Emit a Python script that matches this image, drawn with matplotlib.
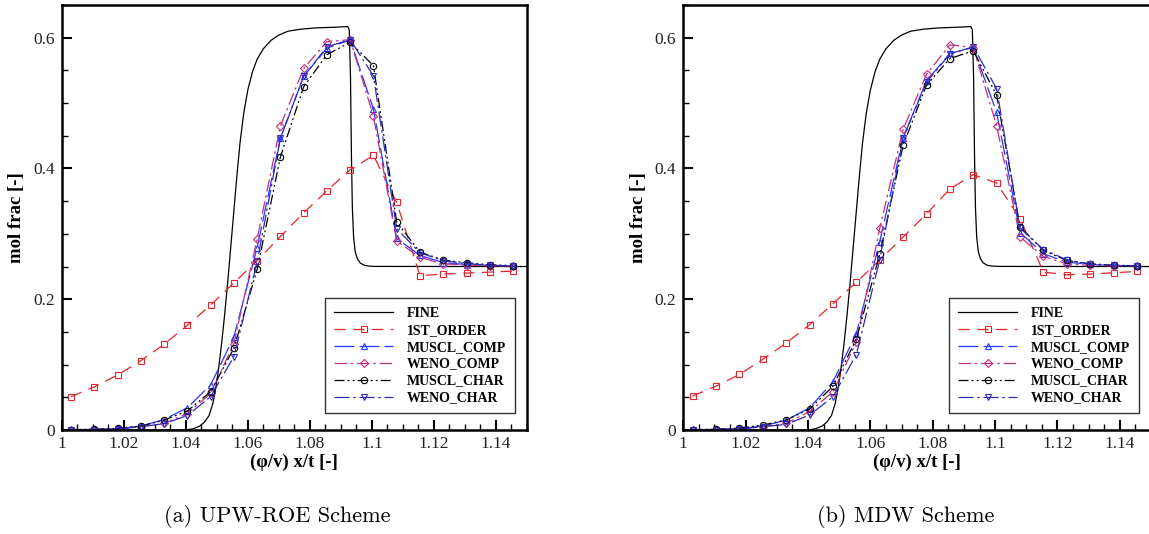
import numpy as np
import matplotlib
matplotlib.use("Agg")
import matplotlib.pyplot as plt
from matplotlib.ticker import MultipleLocator, FormatStrFormatter

plt.rcParams['font.family'] = ['Liberation Serif', 'DejaVu Serif']

# coarse-grid cell positions shared by all schemes
x_coarse = [1.003, 1.0105, 1.018, 1.0255, 1.033, 1.0405, 1.048, 1.0555, 1.063, 1.0705,
            1.078, 1.0855, 1.093, 1.1005, 1.108, 1.1155, 1.123, 1.1305, 1.138, 1.1455]

# fine-grid reference solution
fine_x = [1.0, 1.040, 1.0425, 1.0445, 1.046, 1.0475, 1.0487, 1.0497, 1.0506, 1.0515,
          1.0525, 1.0535, 1.0545, 1.0555, 1.0565, 1.0575, 1.0587, 1.060, 1.0615, 1.063,
          1.065, 1.0675, 1.070, 1.073, 1.077, 1.082, 1.088, 1.0922, 1.0927, 1.0931,
          1.0934, 1.0937, 1.0941, 1.0946, 1.0953, 1.0962, 1.0975, 1.099, 1.101, 1.15]
fine_y = [0.0, 0.0, 0.002, 0.006, 0.012, 0.022, 0.040, 0.065, 0.095, 0.130,
          0.175, 0.225, 0.280, 0.335, 0.390, 0.440, 0.485, 0.520, 0.548, 0.567,
          0.583, 0.596, 0.604, 0.610, 0.613, 0.615, 0.616, 0.617, 0.612, 0.540,
          0.420, 0.340, 0.295, 0.273, 0.262, 0.2555, 0.252, 0.2507, 0.2502, 0.250]

# UPW-ROE results
first_roe = [0.051, 0.066, 0.084, 0.106, 0.131, 0.160, 0.191, 0.225, 0.259, 0.296,
             0.332, 0.366, 0.398, 0.420, 0.348, 0.236, 0.2385, 0.240, 0.2415, 0.243]
muscl_comp_roe = [0.0005, 0.001, 0.002, 0.006, 0.016, 0.034, 0.069, 0.142, 0.279, 0.446,
                  0.541, 0.584, 0.5965, 0.491, 0.293, 0.267, 0.256, 0.253, 0.2517, 0.251]
weno_comp_roe = [0.0, 0.0005, 0.0015, 0.005, 0.010, 0.025, 0.056, 0.132, 0.292, 0.465,
                 0.553, 0.594, 0.597, 0.480, 0.289, 0.264, 0.254, 0.2525, 0.2515, 0.251]
muscl_char_roe = [0.0005, 0.001, 0.0025, 0.006, 0.015, 0.029, 0.0585, 0.125, 0.2455, 0.4175,
                  0.525, 0.574, 0.593, 0.557, 0.318, 0.272, 0.260, 0.2558, 0.2527, 0.2515]
weno_char_roe = [0.0, 0.0005, 0.0015, 0.005, 0.0097, 0.022, 0.051, 0.112, 0.257, 0.446,
                 0.541, 0.586, 0.597, 0.5415, 0.308, 0.271, 0.259, 0.2545, 0.252, 0.251]

# MDW results
first_mdw = [0.052, 0.067, 0.085, 0.108, 0.133, 0.161, 0.193, 0.226, 0.260, 0.295,
             0.3305, 0.3686, 0.3905, 0.3778, 0.323, 0.2415, 0.2375, 0.2385, 0.2405, 0.2425]
muscl_comp_mdw = [0.0005, 0.001, 0.002, 0.006, 0.015, 0.034, 0.0737, 0.1475, 0.288, 0.447,
                  0.534, 0.576, 0.585, 0.4856, 0.302, 0.2695, 0.2568, 0.2532, 0.2517, 0.251]
weno_comp_mdw = [0.0, 0.0005, 0.0015, 0.005, 0.0102, 0.028, 0.0585, 0.1347, 0.3085, 0.460,
                 0.544, 0.589, 0.585, 0.465, 0.295, 0.2654, 0.2542, 0.2517, 0.2512, 0.2508]
muscl_char_mdw = [0.0005, 0.001, 0.003, 0.0076, 0.0153, 0.032, 0.067, 0.139, 0.2685, 0.4355,
                  0.5275, 0.568, 0.580, 0.512, 0.311, 0.2746, 0.2593, 0.2542, 0.252, 0.251]
weno_char_mdw = [0.0, 0.0005, 0.0015, 0.005, 0.0086, 0.0229, 0.0508, 0.1154, 0.2605, 0.447,
                 0.532, 0.575, 0.586, 0.522, 0.3087, 0.276, 0.2603, 0.2532, 0.252, 0.251]

labels = ['FINE', '1ST_ORDER', 'MUSCL_COMP', 'WENO_COMP', 'MUSCL_CHAR', 'WENO_CHAR']
captions = ['(a) UPW-ROE Scheme', '(b) MDW Scheme']

# colour, dash pattern, marker for each coarse scheme
styles = [
    ('#e3262e', (0, (9, 6)), 's'),
    ('#2a35ff', (0, (16, 4)), '^'),
    ('#c0307e', (0, (10, 3, 2, 3)), 'D'),
    ('black', (0, (8, 2.5, 1.5, 2.5, 1.5, 2.5)), 'o'),
    ('#2b2bb8', (0, (12, 3, 2, 3)), 'v'),
]


def draw_panel(ax, series):
    ax.plot(fine_x, fine_y, color='black', lw=0.9, label=labels[0])
    for ys, (col, ls, mk), lab in zip(series, styles, labels[1:]):
        ms = 4.0 if mk == 'D' else 4.6
        ax.plot(x_coarse, ys, color=col, linestyle=ls, lw=0.9, marker=mk, ms=ms,
                mfc='none', mec=col, mew=0.8, label=lab)

    ax.set_xlim(1.0, 1.15)
    ax.set_ylim(0.0, 0.65)
    ax.xaxis.set_major_locator(MultipleLocator(0.02))
    ax.xaxis.set_minor_locator(MultipleLocator(0.005))
    ax.yaxis.set_major_locator(MultipleLocator(0.2))
    ax.yaxis.set_minor_locator(MultipleLocator(0.05))
    ax.xaxis.set_major_formatter(FormatStrFormatter('%g'))
    ax.yaxis.set_major_formatter(FormatStrFormatter('%g'))
    ax.tick_params(which='both', direction='in', top=False, right=False, labelsize=12.5,
                   labelcolor='#222222')
    ax.tick_params(which='major', length=7, width=1.5)
    ax.tick_params(which='minor', length=4, width=1.0)
    ax.tick_params(axis='x', pad=4)
    ax.tick_params(axis='y', pad=5)
    for sp in ax.spines.values():
        sp.set_linewidth(1.8)

    ax.set_xlabel('(φ/v) x/t [-]', fontsize=13.5, fontweight='bold')
    ax.set_ylabel('mol frac [-]', fontsize=13.5, fontweight='bold')
    ax.xaxis.set_label_coords(0.5, -0.056)
    ax.yaxis.set_label_coords(-0.078, 0.5)

    leg = ax.legend(loc='lower right', bbox_to_anchor=(0.974, 0.039), borderaxespad=0,
                    fancybox=False, framealpha=1, edgecolor='#333333',
                    prop={'weight': 'bold', 'size': 10},
                    handlelength=4.2, handletextpad=1.0, borderpad=0.65, labelspacing=0.28)
    leg.get_frame().set_linewidth(1.0)


fig = plt.figure(figsize=(11.49, 5.34), dpi=100)
ax1 = fig.add_axes([61.7 / 1149, 104 / 534, 465.3 / 1149, 425 / 534])
ax2 = fig.add_axes([683.3 / 1149, 104 / 534, 467.7 / 1149, 425 / 534])

draw_panel(ax1, [first_roe, muscl_comp_roe, weno_comp_roe, muscl_char_roe, weno_char_roe])
draw_panel(ax2, [first_mdw, muscl_comp_mdw, weno_comp_mdw, muscl_char_mdw, weno_char_mdw])

fig.text(277 / 1149, 1 - 517 / 534, captions[0], family='cmr10', fontsize=16,
         ha='center', va='center')
fig.text(906 / 1149, 1 - 517 / 534, captions[1], family='cmr10', fontsize=16,
         ha='center', va='center')

fig.savefig('out.png', dpi=100)
